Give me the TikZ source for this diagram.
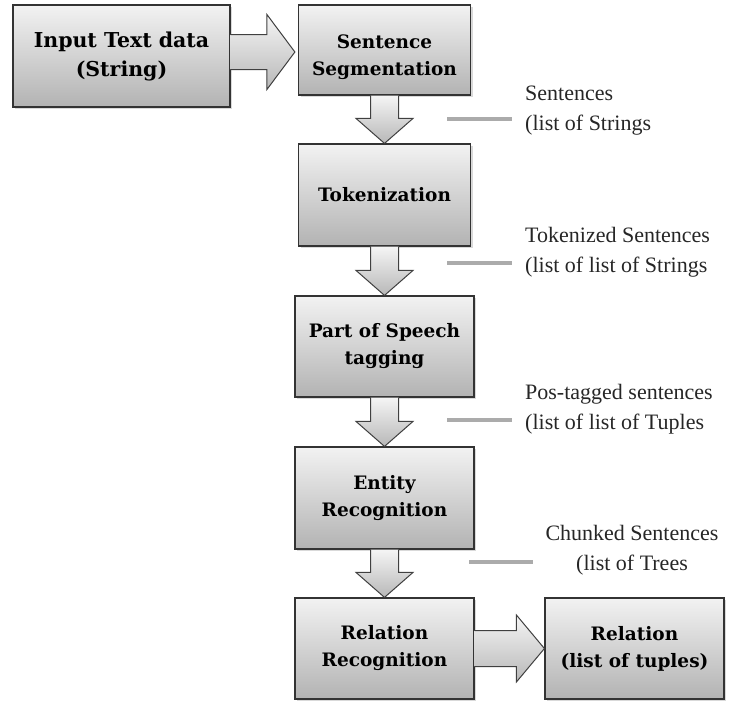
\documentclass[tikz,border=0pt]{standalone}
\usepackage{fontspec}
\setmainfont{Liberation Serif}
\newfontfamily\boxfont{DejaVu Serif}
\usetikzlibrary{calc,shadows}
\newcommand\downblock[2]{%
  \path[blockarrow] ($(#1.south)+(-14,0)$) -- ($(#2.north)+(-14,25)$) -- ($(#2.north)+(-28.5,25)$) -- (#2.north) -- ($(#2.north)+(28.5,25)$) -- ($(#2.north)+(14,25)$) -- ($(#1.south)+(14,0)$);}
\begin{document}
\begin{tikzpicture}[x=1pt,y=1pt,
  boxtext/.style={align=center, inner sep=0pt, font=\boxfont\bfseries\fontsize{18.5}{27}\selectfont},
  procbox/.style={draw=black!80, line width=1.2pt, top color=black!5, bottom color=black!30,
    boxtext, drop shadow={opacity=0.3, shadow xshift=2pt, shadow yshift=-2pt}},
  blockarrow/.style={draw=black!75, line width=1pt, top color=black!4, bottom color=black!28, line join=miter},
  graybar/.style={draw=black!33, line width=4pt},
  note/.style={font=\fontsize{22}{30}\selectfont, inner sep=0pt, text=black!85}]
\useasboundingbox (0,0) rectangle (730,-702);
\node[procbox, minimum width=217pt, minimum height=102pt, font=\boxfont\bfseries\fontsize{20.5}{29}\selectfont] (b1) at (121.5,-56) {Input Text data\\(String)};
\node[procbox, minimum width=172pt, minimum height=90pt] (b2) at (384.5,-50) {};
\node[boxtext] (b2t) at ($(b2.center)+(0,-7)$) {Sentence\\Segmentation};
\node[procbox, minimum width=172pt, minimum height=102pt] (b3) at (384.5,-195) {Tokenization};
\node[procbox, minimum width=179pt, minimum height=101pt] (b4) at (384.5,-346.5) {Part of Speech\\tagging};
\node[procbox, minimum width=179pt, minimum height=102pt] (b5) at (384.5,-498) {Entity\\Recognition};
\node[procbox, minimum width=179pt, minimum height=101pt] (b6) at (384.5,-648.5) {Relation\\Recognition};
\node[procbox, minimum width=179pt, minimum height=101pt] (b7) at (634.5,-648.5) {Relation\\(list of tuples)};
% horizontal block arrows
\coordinate (s1) at ($(b1.east)+(0,4)$);
\coordinate (t1) at ($(b2.west)+(-3,-2)$);
\path[blockarrow] ($(s1)+(0,17.5)$) -- ($(t1)+(-28,17.5)$) -- ($(t1)+(-28,37.5)$) -- (t1) -- ($(t1)+(-28,-37.5)$) -- ($(t1)+(-28,-17.5)$) -- ($(s1)+(0,-17.5)$);
\path[blockarrow] ($(b6.east)+(0,18)$) -- ($(b7.west)+(-28,18)$) -- ($(b7.west)+(-28,33.5)$) -- (b7.west) -- ($(b7.west)+(-28,-33.5)$) -- ($(b7.west)+(-28,-18)$) -- ($(b6.east)+(0,-18)$);
% vertical block arrows
\downblock{b2}{b3}
\downblock{b3}{b4}
\downblock{b4}{b5}
\downblock{b5}{b6}
% side bars
\draw[graybar] (447,-119) -- (512,-119);
\draw[graybar] (447,-263) -- (512,-263);
\draw[graybar] (447,-420) -- (512,-420);
\draw[graybar] (469,-562) -- (533,-562);
% notes (base anchor = baseline of the last line)
\node[note, anchor=base west, align=left] (n1) at (525,-130) {Sentences\\(list of Strings};
\node[note, anchor=base west, align=left] (n2) at (525,-272) {Tokenized Sentences\\(list of list of Strings};
\node[note, anchor=base west, align=left] (n3) at (525,-429) {Pos-tagged sentences\\(list of list of Tuples};
\node[note, anchor=base, align=center] (n4) at (632,-570) {Chunked Sentences\\(list of Trees};
\end{tikzpicture}
\end{document}
